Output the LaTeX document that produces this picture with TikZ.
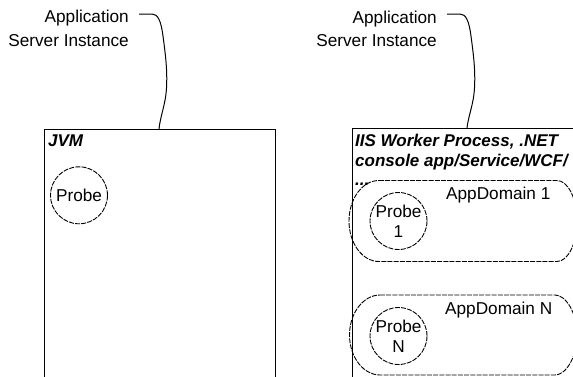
\documentclass[tikz,border=0pt]{standalone}
\usepackage{fontspec}
\setmainfont{Liberation Sans}
\begin{document}
\begin{tikzpicture}[x=1pt,y=-1pt,
  lbl/.style={font=\fontsize{17.2}{24}\selectfont, inner sep=0},
  ttl/.style={font=\fontsize{17}{19}\selectfont\bfseries\itshape, inner sep=0},
  procbox/.style={draw, line width=1pt, rectangle, anchor=north west, inner sep=0},
  dsh/.style={draw, line width=0.9pt, dash pattern=on 5pt off 1.2pt},
  probe/.style={dsh, circle, minimum size=57pt, inner sep=0, align=center, font=\fontsize{17.2}{20}\selectfont},
  brace/.style={draw, line width=1pt}]
\useasboundingbox (0,0) rectangle (573,376);
\clip (0,0) rectangle (573,376);

% left instance
\node[lbl, anchor=base east] (app1) at (129,22.7) {Application};
\node[lbl, anchor=base east] (srv1) at (129,46.7) {Server Instance};
\node[procbox, minimum width=231pt, minimum height=270pt] (jvm) at (44,129) {};
\node[ttl, anchor=base west] (jvmt) at (48,146.7) {JVM};
\node[probe] (p0) at (79,195.3) {Probe};
\coordinate (b1s) at (139,14);
\coordinate (b1e) at (159,129);
\draw[brace] (b1s) -- (152,14) .. controls (158,14) and (161,21) .. (163,36)
  .. controls (165.5,55) and (167.5,70) .. (166.5,88)
  .. controls (165.5,105) and (160.5,115) .. (b1e);

% right instance
\node[lbl, anchor=base east] (app2) at (437,23) {Application};
\node[lbl, anchor=base east] (srv2) at (437,46.7) {Server Instance};
\node[procbox, minimum width=260pt, minimum height=270pt] (iis) at (352,128) {};
\node[ttl, anchor=base west] (t1) at (355,146.7) {IIS Worker Process, .NET};
\node[ttl, anchor=base west] (t2) at (355,166) {console app/Service/WCF/};
\node[ttl, anchor=base west] (t3) at (355,185) {...};
\coordinate (b2s) at (447,14);
\coordinate (b2e) at (467,128);
\draw[brace] (b2s) -- (460,14) .. controls (466,14) and (469,21) .. (471,36)
  .. controls (473.5,55) and (475.5,70) .. (474.5,88)
  .. controls (473.5,105) and (468.5,115) .. (b2e);

% AppDomain 1
\draw[dsh] (379,180.5) -- (557,180.5) .. controls (568,180.5) and (577,198.6) .. (577,221)
  .. controls (577,243.4) and (568,261.5) .. (557,261.5) -- (379,261.5)
  .. controls (362.4,261.5) and (349,243.4) .. (349,221)
  .. controls (349,198.6) and (362.4,180.5) .. (379,180.5);
\node[lbl, anchor=base west] (ad1) at (446,199.3) {AppDomain 1};
\node[probe] (p1) at (398.5,221) {Probe\\1};

% AppDomain N
\draw[dsh] (380,295) -- (555,295) .. controls (566,295) and (577,312.9) .. (577,335)
  .. controls (577,357.1) and (566,375) .. (555,375) -- (380,375)
  .. controls (363.4,375) and (349.5,357.1) .. (349.5,335)
  .. controls (349.5,312.9) and (363.4,295) .. (380,295);
\node[lbl, anchor=base west] (adn) at (445,314) {AppDomain N};
\node[probe] (pn) at (398.5,336) {Probe\\N};
\end{tikzpicture}
\end{document}
